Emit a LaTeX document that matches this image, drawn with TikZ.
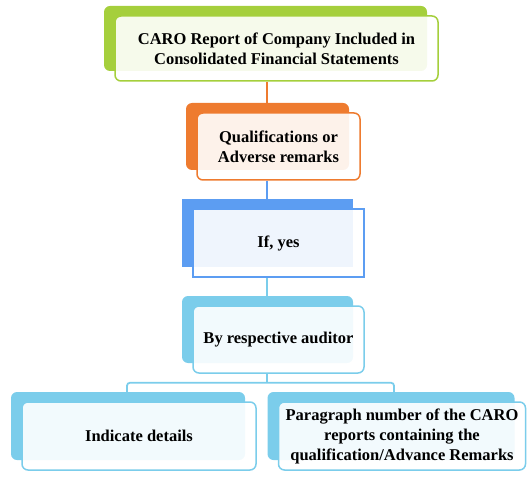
\documentclass[tikz,border=0pt]{standalone}
\usepackage{fontspec}
\setmainfont{Liberation Serif}
\usetikzlibrary{shadows,backgrounds}

\definecolor{leafgreen}{HTML}{A5CF3C}
\definecolor{caroorange}{HTML}{EE7B2F}
\definecolor{skyblue}{HTML}{5C9DF2}
\definecolor{paleblue}{HTML}{7BCDEB}

\tikzset{
  card/.style={draw=#1, line width=1.5pt, rounded corners=6pt,
    fill=white, fill opacity=0.9, text opacity=1, align=center,
    font=\fontsize{16.5}{20}\selectfont\bfseries,
    general shadow={draw=none, fill=#1, fill opacity=1,
      shadow xshift=-11pt, shadow yshift=10pt}},
  link/.style={line width=1.8pt, draw=#1}
}

\begin{document}
\begin{tikzpicture}[x=1pt, y=-1pt]
	\useasboundingbox (0,0) rectangle (527,489);

	% Define nodes
	\node[card=leafgreen, minimum width=323pt, minimum height=65pt] (caro) at (276.5,48.5)
		{CARO Report of Company Included in\\Consolidated Financial Statements};
	\node[card=caroorange, minimum width=163pt, minimum height=67pt] (qual) at (278.5,146.5)
		{Qualifications or\\Adverse remarks};
	\node[card=skyblue, sharp corners, minimum width=171pt, minimum height=68pt] (ifyes) at (278.5,243)
		{If, yes};
	\node[card=paleblue, minimum width=171pt, minimum height=67pt] (aud) at (278.5,339.5)
		{By respective auditor};
	\node[card=paleblue, minimum width=234pt, minimum height=68pt] (ind) at (139,436)
		{Indicate details};
	\node[card=paleblue, minimum width=247pt, minimum height=68pt] (para) at (402,436)
		{Paragraph number of the CARO\\reports containing the\\qualification/Advance Remarks};

	% Connect the nodes (behind the cards, along one spine)
	\coordinate (spine) at (267,0);
	\begin{scope}[on background layer]
		\draw[link=caroorange] (caro.south -| spine) -- (qual.north -| spine);
		\draw[link=skyblue] (qual.south -| spine) -- (ifyes.north -| spine);
		\draw[link=paleblue] (ifyes.south -| spine) -- (aud.north -| spine);
		\coordinate (fork) at ([yshift=-9pt]aud.south -| spine);
		\draw[link=paleblue] (aud.south -| spine) -- (fork);
		\draw[link=paleblue, rounded corners=3pt] ([xshift=-12pt]ind.north) |- (fork) -| ([xshift=-8pt]para.north);
	\end{scope}
\end{tikzpicture}
\end{document}
